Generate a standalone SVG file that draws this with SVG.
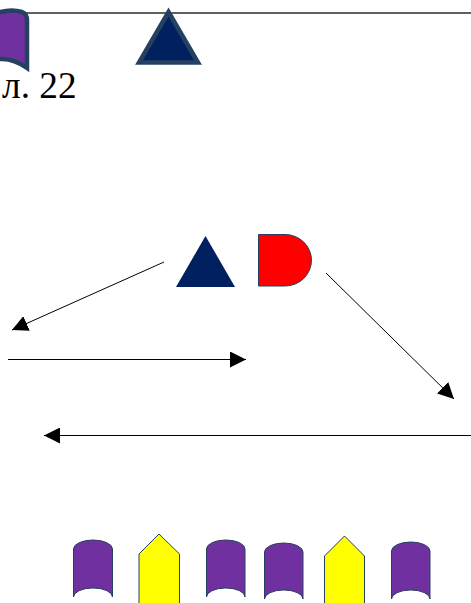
<svg xmlns="http://www.w3.org/2000/svg" width="471" height="603" viewBox="0 0 471 603">
<style>
.conn{fill:none;stroke:#000;stroke-width:1}
.tab{fill:#7030a0;stroke:#254061;stroke-width:1}
.house{fill:#ff0;stroke:#254061;stroke-width:1}
.navy{fill:#002060}
.label{font-family:"Liberation Serif","Times New Roman",serif;font-size:37.33px;fill:#000}
</style>
<defs>
<marker id="arrow" markerUnits="userSpaceOnUse" markerWidth="16" markerHeight="16" refX="16" refY="8" orient="auto" viewBox="0 0 16 16"><path d="M0 0L16 8L0 16Z" fill="#000"/></marker>
</defs>
<rect width="471" height="603" fill="#fff"/>
<g id="connectors">
<line x1="22" y1="13" x2="471" y2="13" fill="none" stroke="#2b2b2b" stroke-width="1.5"/>
<line class="conn" x1="164" y1="262" x2="12" y2="330" marker-end="url(#arrow)"/>
<line class="conn" x1="8" y1="359.5" x2="246" y2="359.5" marker-end="url(#arrow)"/>
<line class="conn" x1="326" y1="273" x2="454" y2="399" marker-end="url(#arrow)"/>
<line class="conn" x1="471" y1="435.5" x2="44" y2="435.5" marker-end="url(#arrow)"/>
</g>
<g id="top-tab"><path d="M-14 18Q6 7 22 12Q27 14 27 20L27 68Q6 53 -14 63Z" fill="#7030a0" stroke="#254061" stroke-width="4.5"/></g>
<g id="top-triangle"><path d="M168.5 12L198 62.5L139 62.5Z" class="navy" stroke="#254061" stroke-width="4.5"/></g>
<g id="label"><text class="label" x="2" y="98">л. 22</text></g>
<g id="navy-triangle"><path d="M205.5 236L235 287L176 287Z" class="navy"/></g>
<g id="red-d"><path d="M258.5 234.5L285 234.5A26.5 25.75 0 0 1 285 286L258.5 286Z" fill="#f00" stroke="#254061" stroke-width="1"/></g>
<g id="tab-1"><path class="tab" d="M73.5 597L73.5 549A19.5 9 0 0 1 112.5 549L112.5 597A19.5 9 0 0 0 73.5 597Z"/></g>
<g id="house-1"><path class="house" d="M139 604L139 554L159 534L179.5 554L179.5 604"/></g>
<g id="tab-2"><path class="tab" d="M206.5 597L206.5 549A19.25 9 0 0 1 245 549L245 597A19.25 9 0 0 0 206.5 597Z"/></g>
<g id="tab-3"><path class="tab" d="M264.5 599L264.5 552A19.25 9 0 0 1 303 552L303 599A19.25 9 0 0 0 264.5 599Z"/></g>
<g id="house-2"><path class="house" d="M324.5 604L324.5 556L344.5 536L364.5 556L364.5 604"/></g>
<g id="tab-4"><path class="tab" d="M391.5 599L391.5 551A19.25 9 0 0 1 430 551L430 599A19.25 9 0 0 0 391.5 599Z"/></g>
</svg>
